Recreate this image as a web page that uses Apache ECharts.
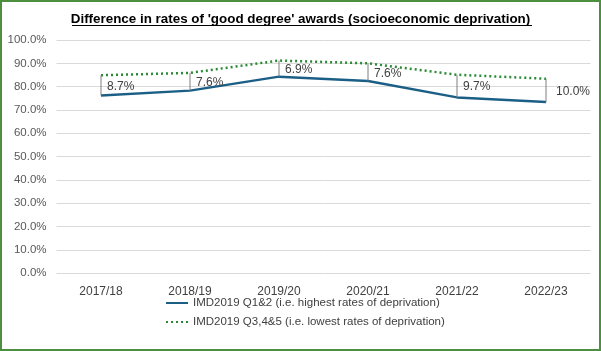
<!DOCTYPE html>
<html>
<head>
<meta charset="utf-8">
<script src="https://cdn.jsdelivr.net/npm/echarts@6/dist/echarts.min.js"></script>
<style>
  html, body { margin:0; padding:0; background:#fff; }
  #chart { width:601px; height:351px; box-sizing:border-box; border:2px solid #4b8f3f; }
</style>
</head>
<body>
<div id="chart"></div>
<script>
const years = ['2017/18','2018/19','2019/20','2020/21','2021/22','2022/23'];
const q12 = [76.2, 78.3, 84.3, 82.4, 75.4, 73.4];
const q345 = [84.9, 85.9, 91.2, 90.0, 85.1, 83.4];
const gapLabels = ['8.7%','7.6%','6.9%','7.6%','9.7%','10.0%'];
const yTicks = [0, 100, 10];

const nameQ12 = 'IMD2019 Q1&2 (i.e. highest rates of deprivation)';
const nameQ345 = 'IMD2019 Q3,4&5 (i.e. lowest rates of deprivation)';
const font = 'Liberation Sans, Arial, sans-serif';

const c = echarts.init(document.getElementById('chart'));
c.setOption({
  animation: false,
  title: {
    text: "Difference in rates of 'good degree' awards (socioeconomic deprivation)",
    left: 'center', top: 6,
    textStyle: { fontFamily: font, fontWeight: 'bold', fontSize: 13.4, color: '#000' }
  },
  graphic: [{ type: 'line', shape: { x1: 70, y1: 23.5, x2: 530, y2: 23.5 }, style: { stroke: '#000', lineWidth: 1 } }],
  grid: { left: 54.5, right: 8.5, top: 38, bottom: 75.7 },
  legend: {
    orient: 'vertical', left: 163, top: 295, itemGap: 7, padding: 0,
    itemWidth: 22, itemHeight: 10,
    itemStyle: { opacity: 0 },
    textStyle: { fontFamily: font, fontSize: 11.5, color: '#404040' },
    data: [nameQ12, nameQ345]
  },
  xAxis: {
    type: 'category', data: years, boundaryGap: true,
    axisLine: { show: false }, axisTick: { show: false },
    axisLabel: { fontFamily: font, fontSize: 12, color: '#404040', margin: 12 }
  },
  yAxis: {
    type: 'value', min: yTicks[0], max: yTicks[1], interval: yTicks[2],
    axisLine: { show: false }, axisTick: { show: false },
    splitLine: { lineStyle: { color: '#d9d9d9', width: 1 } },
    axisLabel: { fontFamily: font, fontSize: 11.5, color: '#595959', margin: 10, formatter: v => v.toFixed(1) + '%' }
  },
  series: [
    {
      name: nameQ12, type: 'line', data: q12, showSymbol: false, symbol: 'none',
      lineStyle: { color: '#1b5f86', width: 2.5 }, itemStyle: { color: '#1b5f86' }, z: 3
    },
    {
      name: nameQ345, type: 'line', data: q345, showSymbol: false, symbol: 'none',
      lineStyle: { color: '#2a8a34', width: 2.5, type: [2, 3] }, itemStyle: { color: '#2a8a34' }, z: 3
    },
    {
      type: 'custom', z: 4,
      data: years.map((y, i) => [i, q12[i], q345[i], gapLabels[i]]),
      renderItem: (params, api) => {
        const i = api.value(0);
        const lo = api.coord([i, api.value(1)]);
        const hi = api.coord([i, api.value(2)]);
        const last = i === years.length - 1;
        return {
          type: 'group',
          children: [
            { type: 'line', shape: { x1: lo[0], y1: lo[1], x2: hi[0], y2: hi[1] }, style: { stroke: '#7f7f7f', lineWidth: 1 } },
            { type: 'text', style: {
                text: gapLabels[params.dataIndex],
                x: lo[0] + (last ? 10 : 6), y: (lo[1] + hi[1]) / 2 + 1,
                verticalAlign: 'middle', align: 'left',
                fontFamily: font, fontSize: 12, fill: '#404040'
            } }
          ]
        };
      }
    }
  ]
});
</script>
</body>
</html>
